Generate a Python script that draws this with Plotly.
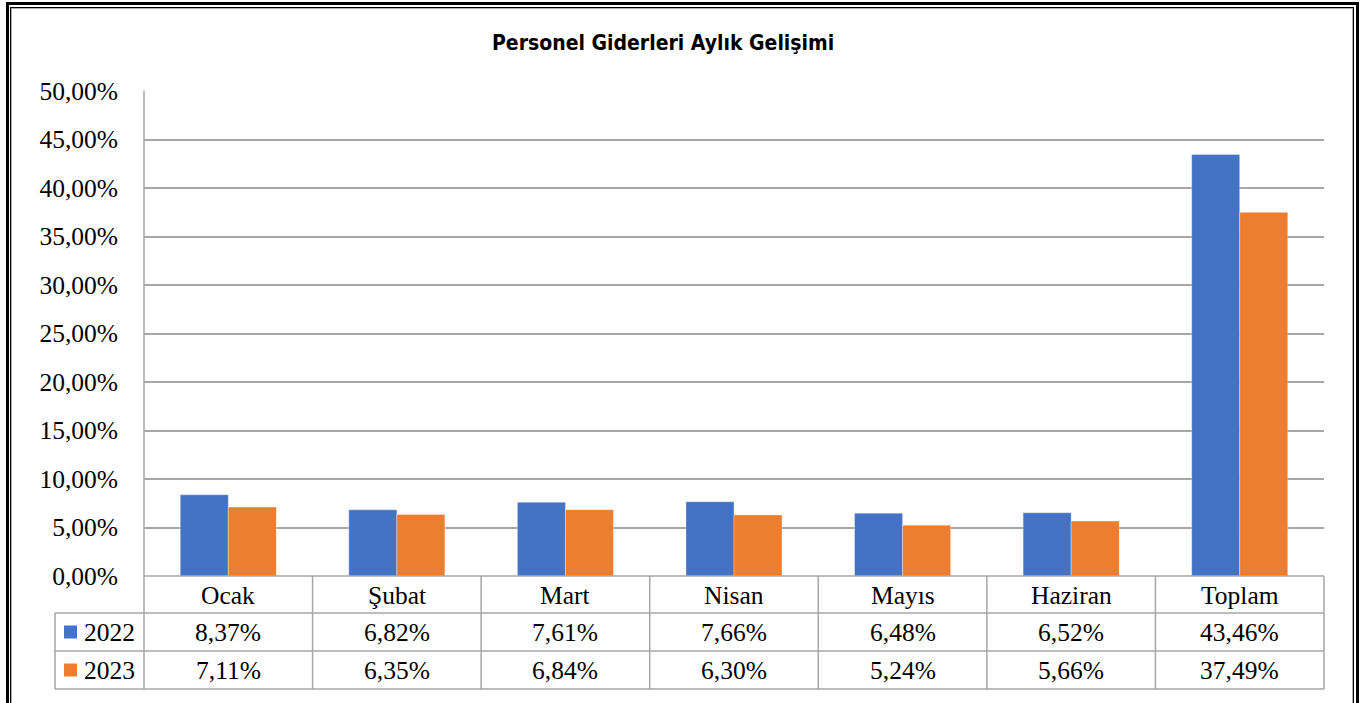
import plotly.graph_objects as go

categories = ["Ocak", "Şubat", "Mart", "Nisan", "Mayıs", "Haziran", "Toplam"]
series_names = ["2022", "2023"]
values_2022 = [8.37, 6.82, 7.61, 7.66, 6.48, 6.52, 43.46]
values_2023 = [7.11, 6.35, 6.84, 6.30, 5.24, 5.66, 37.49]
y_ticks = [0, 5, 10, 15, 20, 25, 30, 35, 40, 45, 50]
title_text = "Personel Giderleri Aylık Gelişimi"

colors = ["#4472C4", "#ED7D31"]
W, H = 1360, 703
L, R, T, B = 144, 36, 91, 127
PW, PH = W - L - R, H - T - B
SERIF = "Liberation Serif, Times New Roman, serif"
FS = 25.5
GRID = "#a6a6a6"


def px(x):
    return (x - L) / PW


def py(y):
    return (H - B - y) / PH


def pct(v):
    return f"{v:.2f}%".replace(".", ",")


fig = go.Figure()
for name, vals, col in zip(series_names, [values_2022, values_2023], colors):
    fig.add_trace(go.Bar(
        x=categories, y=vals, name=name,
        marker=dict(color=col, line=dict(color="rgba(255,255,255,0.35)", width=1)),
        hoverinfo="x+y",
    ))

shapes = []
annotations = []

# Table grid
row_y = [576, 613, 651, 689]
left_col = 55
ncat = len(categories)
colw = PW / ncat
col_x = [L + i * colw for i in range(ncat + 1)]
line = dict(color=GRID, width=1.5)
shapes.append(dict(type="line", xref="paper", yref="paper", x0=px(L), x1=px(L + PW), y0=py(576), y1=py(576), line=line))
for yy in row_y[1:]:
    shapes.append(dict(type="line", xref="paper", yref="paper", x0=px(left_col), x1=px(L + PW), y0=py(yy), y1=py(yy), line=line))
for i, xx in enumerate(col_x):
    y_top = 91 if i == 0 else 576
    shapes.append(dict(type="line", xref="paper", yref="paper", x0=px(xx), x1=px(xx), y0=py(y_top), y1=py(689), line=line))
shapes.append(dict(type="line", xref="paper", yref="paper", x0=px(left_col), x1=px(left_col), y0=py(613), y1=py(689), line=line))

for i, c in enumerate(categories):
    annotations.append(dict(x=c, xref="x", y=py(595), yref="paper", text=c, showarrow=False,
                            font=dict(family=SERIF, size=FS, color="black"), xanchor="center", yanchor="middle"))
    for r, vals in enumerate([values_2022, values_2023]):
        annotations.append(dict(x=c, xref="x", y=py(632 + 38 * r), yref="paper", text=pct(vals[i]), showarrow=False,
                                font=dict(family=SERIF, size=FS, color="black"), xanchor="center", yanchor="middle"))

for r, (name, col) in enumerate(zip(series_names, colors)):
    yc = 632 + 38 * r
    shapes.append(dict(type="rect", xref="paper", yref="paper", x0=px(64), x1=px(77), y0=py(yc - 6.5), y1=py(yc + 6.5),
                       fillcolor=col, line=dict(width=0)))
    annotations.append(dict(x=px(82), xref="paper", y=py(yc), yref="paper", text=name, showarrow=False,
                            font=dict(family=SERIF, size=FS, color="black"), xanchor="left", yanchor="middle"))

annotations.append(dict(x=px(663), xref="paper", y=py(43), yref="paper", text="<b>" + title_text + "</b>", showarrow=False,
                        font=dict(family="DejaVu Sans Condensed, Liberation Sans, sans-serif", size=21, color="black"),
                        xanchor="center", yanchor="middle"))

big = 760
shapes.append(dict(type="line", xref="paper", yref="paper", x0=px(7.5), x1=px(7.5), y0=py(2), y1=py(big), line=dict(color="black", width=3)))
shapes.append(dict(type="line", xref="paper", yref="paper", x0=px(6), x1=px(1359), y0=py(3.5), y1=py(3.5), line=dict(color="black", width=3)))
shapes.append(dict(type="line", xref="paper", yref="paper", x0=px(1357.5), x1=px(1357.5), y0=py(2), y1=py(big), line=dict(color="black", width=3)))
shapes.append(dict(type="line", xref="paper", yref="paper", x0=px(10.5), x1=px(10.5), y0=py(7), y1=py(big), line=dict(color="black", width=1)))
shapes.append(dict(type="line", xref="paper", yref="paper", x0=px(10), x1=px(1354), y0=py(7.5), y1=py(7.5), line=dict(color="black", width=1)))
shapes.append(dict(type="line", xref="paper", yref="paper", x0=px(1353.5), x1=px(1353.5), y0=py(7), y1=py(big), line=dict(color="black", width=1)))
shapes.append(dict(type="line", xref="paper", yref="paper", x0=px(11.5), x1=px(11.5), y0=py(8), y1=py(big), line=dict(color="#b0b0b0", width=1)))
shapes.append(dict(type="line", xref="paper", yref="paper", x0=px(11), x1=px(1353), y0=py(8.5), y1=py(8.5), line=dict(color="#b0b0b0", width=1)))
shapes.append(dict(type="line", xref="paper", yref="paper", x0=px(1352.5), x1=px(1352.5), y0=py(8), y1=py(big), line=dict(color="#b0b0b0", width=1)))

fig.update_layout(
    width=W, height=H,
    margin=dict(l=L, r=R, t=T, b=B, pad=0),
    paper_bgcolor="white", plot_bgcolor="white",
    separators=",.",
    barmode="group", bargap=0.43, bargroupgap=0,
    showlegend=False,
    shapes=shapes, annotations=annotations,
    font=dict(family=SERIF, size=FS, color="black"),
)
fig.update_xaxes(showticklabels=False, showgrid=False, zeroline=False, showline=False, fixedrange=True)
fig.update_yaxes(range=[0, 50], tickvals=y_ticks, ticktext=[pct(v) for v in y_ticks],
                 showgrid=True, gridcolor=GRID, gridwidth=1.5, zeroline=False, showline=False,
                 ticks="", ticklabelstandoff=25, tickfont=dict(family=SERIF, size=FS, color="black"), fixedrange=True)

fig.write_html("out.html", config={"displayModeBar": False},
               post_script="document.body.style.margin='0';document.body.style.overflow='hidden';")
